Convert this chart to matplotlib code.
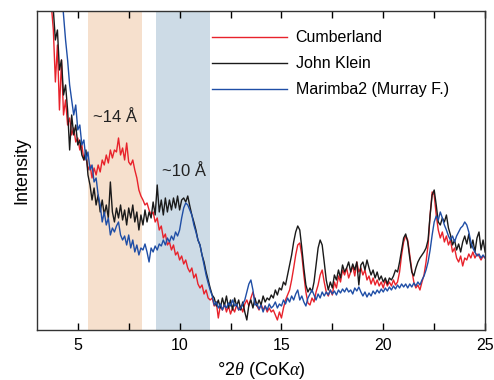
import numpy as np
import matplotlib
matplotlib.use("Agg")
import matplotlib.pyplot as plt

plt.rcParams['font.family'] = ['Liberation Sans', 'DejaVu Sans']
plt.rcParams['mathtext.fontset'] = 'custom'
plt.rcParams['mathtext.it'] = 'Liberation Serif:italic'
plt.rcParams['mathtext.rm'] = 'Liberation Sans'

x_start = 3.6
x_step = 0.1

cumberland = [
    370, 325, 300, 248,
    285, 220, 270, 215, 230, 205, 212, 195, 202, 188,
    192, 180, 185, 170, 175, 160, 165, 152, 162, 155,
    165, 158, 170, 165, 175, 167, 180, 172, 180, 178,
    192, 175, 182, 170, 187, 168, 165, 170, 160, 152,
    140, 134, 130, 125, 127, 120, 115, 118, 108, 112,
    100, 104, 92, 96, 85, 88, 80, 85, 75, 78,
    70, 74, 66, 70, 62, 58, 62, 52, 56, 46,
    42, 45, 36, 40, 32, 30, 32, 24, 28, 12,
    25, 20, 26, 18, 24, 16, 22, 18, 25, 20,
    24, 18, 26, 30, 24, 32, 38, 30, 24, 20,
    26, 20, 24, 18, 22, 18, 20, 15, 10, 18,
    12, 22, 30, 35, 40, 50, 62, 75, 85, 87,
    75, 55, 38, 27, 25, 32, 28, 38, 45, 55,
    60, 48, 38, 34, 40, 35, 48, 42, 54, 48,
    60, 55, 62, 52, 58, 64, 54, 68, 58, 62,
    55, 60, 50, 54, 46, 52, 45, 50, 44, 48,
    42, 50, 44, 48, 44, 50, 45, 48, 58, 75,
    88, 94, 90, 75, 60, 48, 42, 45, 40, 48,
    55, 68, 85, 115, 138, 135, 115, 100, 92, 98,
    88, 94, 85, 90, 78, 82, 72, 68, 74, 64,
    72, 70, 76, 72, 78, 72, 76, 74, 70, 74,
    72,
]

john_klein = [
    370, 340, 320, 290,
    300, 260, 270, 235, 245, 220, 180, 215, 195, 205,
    185, 190, 175, 170, 180, 155, 145, 130, 142, 125,
    135, 118, 130, 115, 125, 112, 148, 118, 108, 122,
    112, 125, 110, 120, 105, 122, 112, 125, 108, 118,
    100, 115, 105, 120, 108, 118, 112, 128, 115, 145,
    118, 130, 115, 132, 118, 130, 120, 132, 122, 134,
    120, 130, 132, 128, 134, 124, 115, 108, 100, 90,
    85, 75, 68, 58, 50, 42, 35, 32, 24, 30,
    22, 32, 24, 34, 22, 30, 20, 32, 24, 30,
    20, 28, 18, 10, 25, 30, 22, 32, 24, 30,
    25, 34, 28, 32, 30, 35, 32, 40, 35, 42,
    40, 48, 45, 55, 65, 75, 88, 98, 104, 100,
    82, 62, 45, 38, 42, 38, 48, 65, 82, 90,
    85, 68, 50, 40, 48, 42, 55, 50, 60, 52,
    65, 58, 62, 68, 58, 66, 60, 68, 45, 65,
    68, 60, 70, 62, 55, 60, 52, 58, 50, 54,
    48, 52, 46, 52, 50, 54, 60, 58, 68, 80,
    92, 96, 88, 72, 58, 54, 62, 68, 72, 75,
    78, 82, 90, 115, 135, 140, 125, 108, 105, 112,
    108, 115, 102, 95, 85, 90, 80, 86, 78, 88,
    94, 86, 96, 82, 90, 78, 92, 98, 80, 90,
    78,
]

marimba2 = [
    480, 460, 440, 420,
    400, 370, 340, 315, 290, 270, 245, 230, 215, 225,
    200, 205, 185, 190, 170, 178, 160, 165, 148, 152,
    135, 125, 108, 118, 105, 112, 95, 102, 98, 104,
    108, 95, 90, 94, 85, 95, 82, 90, 78, 85,
    75, 82, 80, 86, 78, 68, 82, 78, 84, 80,
    86, 84, 90, 85, 92, 88, 94, 90, 98, 94,
    100, 112, 122, 127, 125, 120, 115, 105, 98, 90,
    85, 75, 65, 55, 47, 40, 34, 25, 28, 22,
    26, 20, 25, 22, 27, 24, 30, 24, 26, 20,
    22, 26, 30, 38, 46, 50, 40, 25, 26, 21,
    25, 18, 24, 20, 26, 22, 24, 28, 22, 26,
    24, 30, 26, 32, 28, 34, 30, 36, 40, 30,
    34, 28, 24, 32, 36, 40, 35, 30, 36, 32,
    38, 34, 38, 35, 40, 36, 39, 35, 40, 37,
    41, 38, 42, 38, 40, 36, 42, 39, 43, 38,
    34, 38, 33, 37, 34, 39, 36, 40, 37, 41,
    38, 42, 39, 43, 40, 44, 41, 45, 42, 46,
    43, 46, 42, 46, 43, 47, 44, 48, 45, 50,
    54, 60, 68, 80, 95, 108, 114, 110, 118, 112,
    105, 100, 94, 90, 94, 88, 94, 98, 102, 104,
    108, 105, 98, 88, 82, 78, 74, 76, 72, 75,
    72,
]

series = [
    ("Cumberland", cumberland, "#e8222b"),
    ("John Klein", john_klein, "#1a1a1a"),
    ("Marimba2 (Murray F.)", marimba2, "#1f4ea6"),
]

band_14 = (5.5, 8.15)
band_10 = (8.83, 11.5)
labels_bands = ["~14 Å", "~10 Å"]

fig = plt.figure(figsize=(4.94, 3.80), dpi=100)
ax = fig.add_axes([0.075, 0.1316, 0.907, 0.8395])

ax.axvspan(*band_14, color="#f6e0cd", lw=0, zorder=0)
ax.axvspan(*band_10, color="#cddbe6", lw=0, zorder=0)

for name, vals, col in series:
    vals = np.array(vals, dtype=float)
    xs = x_start + x_step * np.arange(len(vals))
    ax.plot(xs, vals, color=col, lw=1.0, label=name, zorder=2)

ax.set_xlim(3.0, 25.0)
ax.set_ylim(0, 319)
ax.set_yticks([])
ax.set_xticks([5, 10, 15, 20, 25])
ax.set_xticks([7.5, 12.5, 17.5, 22.5], minor=True)
ax.tick_params(axis='x', which='both', direction='in', top=True, length=5,
               width=1, labelsize=11.5, pad=6)
for s in ax.spines.values():
    s.set_linewidth(1.0)
    s.set_color("#333333")

ax.text(6.83, 212, labels_bands[0], fontsize=12, ha='center', va='center', color="#222222")
ax.text(10.2, 158, labels_bands[1], fontsize=12, ha='center', va='center', color="#222222")

ax.set_xlabel(r"°2$\it{\theta}$ (CoK$\alpha$)", fontsize=13, labelpad=5)
ax.set_ylabel("Intensity", fontsize=13, labelpad=5)

leg = ax.legend(loc='upper left', bbox_to_anchor=(0.39, 0.94), frameon=False,
                borderpad=0, borderaxespad=0,
                handlelength=4.7, handletextpad=0.55, labelspacing=0.7, fontsize=11.5)

fig.savefig("out.png", dpi=100)
